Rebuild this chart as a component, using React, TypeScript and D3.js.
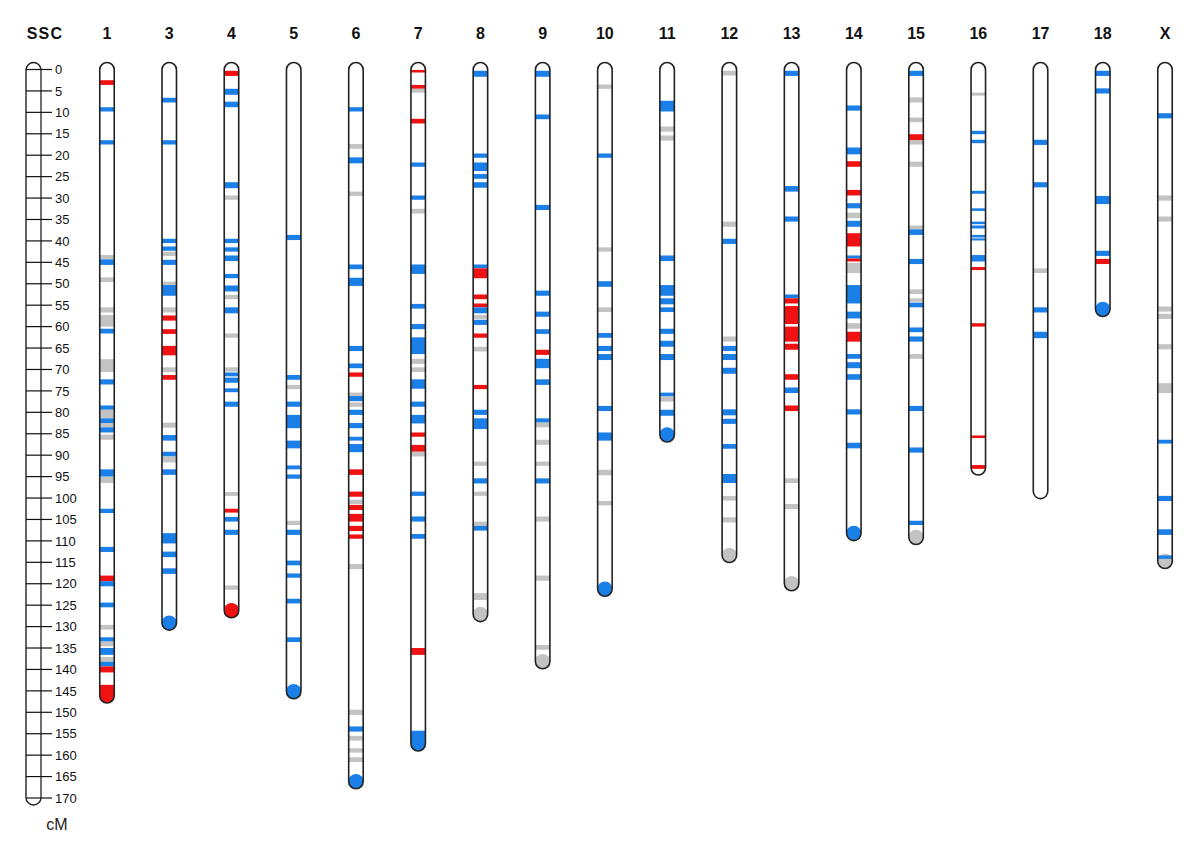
import React from 'react';
import * as d3 from 'd3';

// chromosome names, lengths (cM) and colour of the filled end cap
const chromosomes = ['1', '3', '4', '5', '6', '7', '8', '9', '10', '11', '12', '13', '14', '15', '16', '17', '18', 'X'];
const lengths = [146.2, 129.2, 126.3, 145.2, 166.2, 157.4, 127.2, 138.2, 121.3, 85.3, 113.4, 120, 108.3, 109.2, 93, 98.5, 56, 114.8];
const caps = ['r', 'b', 'r', 'b', 'b', 'b', 'g', 'g', 'b', 'b', 'g', 'g', 'b', 'g', '', '', 'b', 'g'];

// bands: [start cM, end cM, type]  b = blue, r = red, g = grey
const chr1 = [[2.5, 3.6, 'r'], [8.8, 9.8, 'b'], [16.5, 17.5, 'b'], [43.3, 44.3, 'g'], [44.3, 45.6, 'b'], [48.5, 49.6, 'g'], [55.5, 56.7, 'g'], [57.3, 60, 'g'], [60.5, 61.6, 'b'], [67.6, 70.6, 'g'], [72.3, 73.5, 'b'], [78.4, 79.4, 'b'], [79.4, 81.4, 'g'], [81.4, 82.5, 'b'], [82.5, 83.5, 'g'], [83.5, 84.7, 'b'], [85.2, 86.4, 'g'], [93.3, 95, 'b'], [95.1, 96.5, 'g'], [102.5, 103.5, 'b'], [111.4, 112.6, 'b'], [118.1, 119.4, 'r'], [119.4, 120.6, 'b'], [124.4, 125.5, 'b'], [129.6, 130.7, 'g'], [132.5, 133.5, 'b'], [133.5, 134.6, 'g'], [135, 136.6, 'b'], [137.1, 138.2, 'g'], [138.2, 139.3, 'b'], [139.3, 140.7, 'r'], [143.6, 146.2, 'r']];
const chr3 = [[6.6, 7.7, 'b'], [16.5, 17.5, 'b'], [39.5, 40.5, 'b'], [41.3, 42.3, 'b'], [42.5, 43.5, 'g'], [44.4, 45.6, 'b'], [49.5, 50.3, 'g'], [50.3, 52.8, 'b'], [55.5, 56.7, 'g'], [57.4, 58.6, 'r'], [60.6, 61.7, 'r'], [64.5, 66.7, 'r'], [69.5, 70.6, 'g'], [71.3, 72.4, 'r'], [82.4, 83.6, 'g'], [85.3, 86.6, 'b'], [89.2, 90.3, 'b'], [90.3, 91.7, 'g'], [93.3, 94.6, 'b'], [108.2, 110.6, 'b'], [112.5, 113.8, 'b'], [116.4, 117.7, 'b']];
const chr4 = [[0.3, 1.5, 'r'], [4.5, 5.9, 'b'], [7.5, 8.8, 'b'], [26.3, 27.7, 'b'], [29.4, 30.4, 'g'], [39.5, 40.5, 'b'], [41.5, 42.5, 'b'], [43.4, 44.7, 'b'], [47.7, 48.7, 'b'], [50.4, 51.8, 'b'], [52.6, 53.6, 'g'], [55.5, 56.9, 'b'], [61.6, 62.6, 'g'], [69.5, 70.5, 'g'], [70.7, 71.6, 'b'], [71.9, 73.1, 'b'], [74.4, 75.3, 'b'], [77.5, 78.7, 'b'], [98.6, 99.5, 'g'], [102.5, 103.4, 'r'], [104.4, 105.5, 'b'], [107.4, 108.6, 'b'], [120.4, 121.4, 'g']];
const chr5 = [[38.6, 39.8, 'b'], [71.3, 72.4, 'b'], [73.6, 74.6, 'g'], [77.5, 78.7, 'b'], [80.6, 83.7, 'b'], [86.6, 88.4, 'b'], [92.4, 93.3, 'b'], [94.5, 95.5, 'b'], [105.3, 106.3, 'g'], [107.4, 108.6, 'b'], [114.6, 115.7, 'b'], [117.6, 118.6, 'b'], [123.5, 124.6, 'b'], [132.5, 133.6, 'b']];
const chr6 = [[8.8, 9.8, 'b'], [17.4, 18.5, 'g'], [20.5, 21.9, 'b'], [28.5, 29.5, 'g'], [45.5, 46.6, 'b'], [48.6, 50.5, 'b'], [64.5, 65.7, 'b'], [68.6, 69.7, 'b'], [70.7, 71.7, 'r'], [75.4, 76.2, 'g'], [76.2, 77.4, 'b'], [77.7, 78.7, 'g'], [79.4, 80.6, 'b'], [82.5, 83.7, 'b'], [85.7, 86.6, 'b'], [87.4, 89.3, 'b'], [93.3, 94.6, 'r'], [98.5, 99.7, 'r'], [100.4, 101.4, 'g'], [101.6, 102.8, 'r'], [103.7, 105.5, 'r'], [106.5, 107.7, 'r'], [108.5, 109.5, 'r'], [115.4, 116.6, 'g'], [149.4, 150.6, 'g'], [153.3, 154.5, 'b'], [155.5, 156.6, 'g'], [158.4, 159.4, 'g'], [160.5, 161.6, 'g']];
const chr7 = [[0.1, 0.7, 'r'], [3.6, 4.5, 'r'], [4.5, 5.4, 'g'], [11.5, 12.6, 'r'], [21.7, 22.7, 'b'], [29.4, 30.4, 'b'], [32.5, 33.6, 'g'], [45.5, 47.7, 'b'], [54.7, 55.8, 'b'], [59.4, 60.6, 'b'], [62.5, 66.4, 'b'], [67.5, 68.7, 'g'], [69.5, 70.6, 'g'], [72.3, 74.5, 'b'], [77.5, 78.7, 'b'], [80.6, 82.6, 'b'], [84.7, 85.7, 'r'], [87.6, 89.2, 'r'], [89.2, 90.3, 'g'], [98.5, 99.5, 'b'], [104.3, 105.5, 'b'], [108.4, 109.5, 'b'], [135, 136.6, 'r'], [154.3, 157.4, 'b']];
const chr8 = [[0.3, 1.7, 'b'], [19.6, 20.6, 'b'], [21.7, 23.7, 'b'], [24.4, 25.5, 'b'], [26.3, 27.6, 'b'], [45.5, 46.4, 'b'], [46.4, 48.7, 'r'], [52.5, 53.6, 'r'], [54.6, 55.5, 'r'], [55.5, 56.9, 'b'], [57.3, 58.2, 'g'], [58.4, 59.6, 'b'], [61.6, 62.6, 'r'], [64.7, 65.8, 'g'], [73.6, 74.6, 'r'], [79.4, 80.6, 'b'], [81.4, 83.9, 'b'], [91.5, 92.5, 'g'], [95.4, 96.6, 'b'], [98.5, 99.5, 'g'], [105.5, 106.5, 'g'], [106.5, 107.6, 'b'], [122.2, 123.8, 'g']];
const chr9 = [[0.3, 1.7, 'b'], [10.5, 11.6, 'b'], [31.6, 32.8, 'b'], [51.6, 52.8, 'b'], [56.5, 57.7, 'b'], [60.6, 61.7, 'b'], [65.4, 66.6, 'r'], [67.5, 69.7, 'b'], [72.3, 73.6, 'b'], [81.4, 82.4, 'b'], [82.4, 83.5, 'g'], [86.4, 87.6, 'g'], [91.5, 92.5, 'g'], [95.4, 96.6, 'b'], [104.3, 105.5, 'g'], [118.1, 119.3, 'g'], [134.3, 135.4, 'g']];
const chr10 = [[3.5, 4.5, 'g'], [19.6, 20.6, 'b'], [41.5, 42.5, 'g'], [49.4, 50.7, 'b'], [55.5, 56.6, 'g'], [61.5, 62.6, 'b'], [64.5, 65.7, 'b'], [66.4, 67.8, 'b'], [78.5, 79.7, 'b'], [84.7, 86.6, 'b'], [93.4, 94.7, 'g'], [100.7, 101.7, 'g']];
const chr11 = [[7.3, 9.8, 'b'], [13.3, 14.5, 'g'], [15.4, 16.6, 'g'], [43.4, 44.7, 'b'], [50.3, 52.8, 'b'], [53.4, 54.8, 'b'], [55.5, 56.6, 'b'], [60.5, 61.7, 'b'], [63.3, 64.7, 'b'], [66.4, 67.8, 'b'], [75.4, 76.3, 'b'], [76.3, 77.5, 'g'], [79.4, 80.8, 'b']];
const chr12 = [[0.3, 1.4, 'g'], [35.5, 36.7, 'g'], [39.5, 40.7, 'b'], [62.3, 63.5, 'g'], [64.5, 65.7, 'b'], [66.4, 67.8, 'b'], [69.6, 71.0, 'b'], [79.3, 80.7, 'b'], [81.5, 82.7, 'b'], [87.4, 88.5, 'b'], [94.4, 96.5, 'b'], [99.5, 100.6, 'g'], [104.5, 105.7, 'g']];
const chr13 = [[0.3, 1.5, 'b'], [27.2, 28.5, 'b'], [34.3, 35.5, 'b'], [52.5, 53.4, 'b'], [53.4, 54.6, 'r'], [55.2, 59.4, 'r'], [60.0, 63.5, 'r'], [64.0, 65.4, 'r'], [71.1, 72.4, 'r'], [74.2, 75.5, 'b'], [78.4, 79.7, 'r'], [95.4, 96.5, 'g'], [101.4, 102.6, 'g']];
const chr14 = [[8.4, 9.6, 'b'], [18.2, 19.8, 'b'], [21.4, 22.7, 'r'], [28.1, 29.4, 'r'], [31.2, 32.4, 'b'], [33.4, 34.7, 'g'], [35.3, 36.7, 'b'], [38.2, 41.3, 'r'], [43.4, 44.1, 'b'], [44.1, 44.8, 'r'], [45.1, 47.5, 'g'], [50.3, 54.6, 'b'], [56.5, 58.1, 'b'], [59.2, 60.5, 'g'], [61.2, 63.5, 'r'], [66.4, 67.5, 'b'], [68.3, 69.7, 'b'], [71.1, 72.4, 'b'], [79.3, 80.5, 'b'], [87.1, 88.4, 'b']];
const chr15 = [[0.3, 1.5, 'b'], [6.5, 7.7, 'g'], [11.2, 12.3, 'g'], [15.1, 16.5, 'r'], [16.5, 17.5, 'g'], [21.5, 22.7, 'g'], [36.4, 37.3, 'g'], [37.3, 38.6, 'b'], [44.2, 45.4, 'b'], [51.3, 52.4, 'g'], [53.4, 54.2, 'g'], [54.4, 55.5, 'b'], [60.2, 61.3, 'b'], [62.3, 63.5, 'b'], [66.4, 67.5, 'g'], [78.5, 79.7, 'b'], [88.2, 89.4, 'b'], [105.3, 106.3, 'b']];
const chr16 = [[5.4, 6.1, 'g'], [14.3, 15.1, 'b'], [16.4, 17.2, 'b'], [28.3, 29.0, 'b'], [32.4, 33.0, 'b'], [35.5, 36.1, 'b'], [36.4, 37.1, 'b'], [38.6, 39.2, 'b'], [39.4, 39.9, 'b'], [43.3, 44.8, 'b'], [46.1, 46.8, 'r'], [59.2, 60.0, 'r'], [85.4, 86.0, 'r'], [92.3, 93.2, 'r']];
const chr17 = [[16.4, 17.6, 'b'], [26.3, 27.5, 'b'], [46.4, 47.5, 'g'], [55.5, 56.7, 'b'], [61.2, 62.7, 'b']];
const chr18 = [[0.3, 1.5, 'b'], [4.4, 5.6, 'b'], [29.5, 31.4, 'b'], [42.3, 43.5, 'b'], [44.2, 45.4, 'r']];
const chrX = [[10.2, 11.4, 'b'], [29.4, 30.6, 'g'], [34.3, 35.5, 'g'], [55.3, 56.5, 'g'], [57.0, 58.2, 'g'], [64.1, 65.3, 'g'], [73.2, 75.5, 'g'], [86.4, 87.3, 'b'], [99.5, 100.7, 'b'], [107.3, 108.6, 'b'], [113.4, 114.2, 'b']];
const bandSets = [chr1, chr3, chr4, chr5, chr6, chr7, chr8, chr9, chr10, chr11, chr12, chr13, chr14, chr15, chr16, chr17, chr18, chrX];

const rulerTicks = d3.range(0, 171, 5);

const colors: Record<string, string> = { b: '#1b7fe8', r: '#f01212', g: '#c3c3c3' };
const font = '"Liberation Sans", Arial, sans-serif';

const App = () => {
  const width = 1200;
  const height = 847;
  const half = 7.25; // half width of a chromosome bar

  const y = d3.scaleLinear().domain([0, 170]).range([69.5, 798]);
  const x = d3.scalePoint<string>().domain(chromosomes).range([107, 1165]);

  const rulerX = 26;
  const rulerW = 15;

  return (
    <svg width={width} height={height} style={{ display: 'block', position: 'absolute', left: 0, top: 0, background: '#fff' }}>
      <defs>
        {chromosomes.map((c, i) => (
          <clipPath id={`clip-${c}`} key={c}>
            <rect x={x(c)! - half} y={y(0) - 7} width={half * 2} height={y(lengths[i]) - y(0) + 14} rx={half} ry={half} />
          </clipPath>
        ))}
      </defs>

      {/* ruler */}
      <text x={45} y={38.5} textAnchor="middle" fontFamily={font} fontWeight="bold" fontSize={16} letterSpacing={1.2} fill="#111">SSC</text>
      <rect x={rulerX} y={y(0) - 7} width={rulerW} height={y(170) - y(0) + 14} rx={7.5} ry={7.5} fill="#fff" stroke="#222" strokeWidth={1.4} />
      <line x1={rulerX + rulerW} x2={rulerX + rulerW} y1={y(0) - 1} y2={y(170) + 1} stroke="#777" strokeWidth={1.4} />
      {rulerTicks.map((t) => (
        <g key={t}>
          <line x1={rulerX} x2={52} y1={y(t)} y2={y(t)} stroke="#111" strokeWidth={1.2} />
          <text x={55} y={y(t)} dy="0.36em" fontFamily={font} fontSize={13} fill="#111">{t}</text>
        </g>
      ))}
      <text x={57} y={830} textAnchor="middle" fontFamily={font} fontSize={16} fill="#222">cM</text>

      {/* chromosomes */}
      {chromosomes.map((c, i) => {
        const cx = x(c)!;
        const L = lengths[i];
        return (
          <g key={c}>
            <text x={cx} y={38.5} textAnchor="middle" fontFamily={font} fontWeight="bold" fontSize={16} fill="#111">{c}</text>
            <rect x={cx - half} y={y(0) - 7} width={half * 2} height={y(L) - y(0) + 14} rx={half} ry={half} fill="#fff" />
            <g clipPath={`url(#clip-${c})`}>
              {caps[i] && <circle cx={cx} cy={y(L)} r={half + 0.5} fill={colors[caps[i]]} />}
              {bandSets[i].map((b, j) => (
                <rect
                  key={j}
                  x={cx - half - 1}
                  y={y(b[0] as number)}
                  width={half * 2 + 2}
                  height={y(b[1] as number) - y(b[0] as number)}
                  fill={colors[b[2] as string]}
                />
              ))}
            </g>
            <rect x={cx - half} y={y(0) - 7} width={half * 2} height={y(L) - y(0) + 14} rx={half} ry={half} fill="none" stroke="#222" strokeWidth={1.6} />
          </g>
        );
      })}
    </svg>
  );
};

export default App;
